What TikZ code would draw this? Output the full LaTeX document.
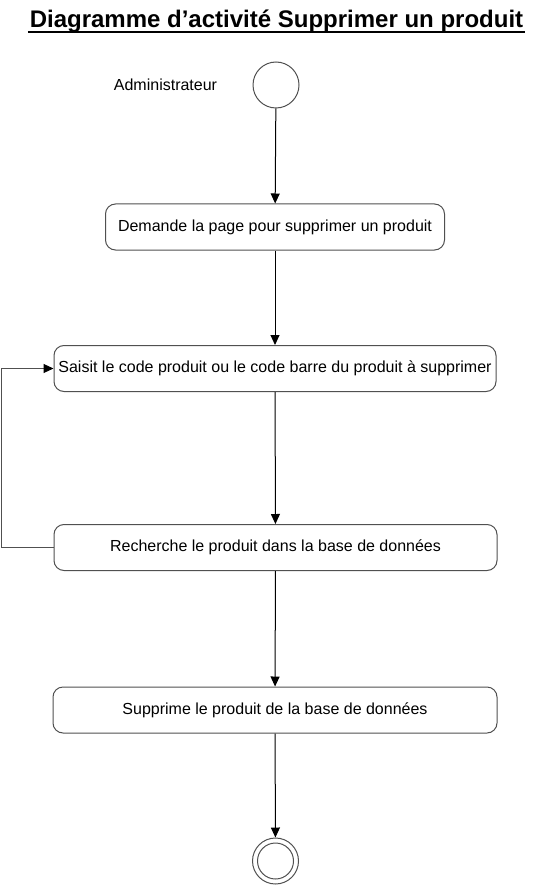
\documentclass[tikz,border=0pt]{standalone}
\usepackage{fontspec}
\setmainfont{Liberation Sans}
\usetikzlibrary{calc}
\usetikzlibrary{arrows.meta}
\usetikzlibrary{positioning}
\definecolor{trait}{RGB}{80, 80, 80}

\tikzset{
  activite/.style={draw=trait, rounded corners=10pt, minimum height=46pt, inner sep=0pt,
                   font=\fontsize{16}{19}\selectfont},
  debut/.style={draw=trait, circle, minimum size=46pt, inner sep=0pt},
  fleche/.style={-{Triangle[length=10pt, width=9pt, color=black]}, line width=1pt}
}

\begin{document}
\begin{tikzpicture}[x=1pt, y=-1pt, line width=1pt]
            % Frame to ensure alignment:
            \useasboundingbox                                             (0, 0) rectangle (535, 885);
            \node[anchor=base, font=\fontsize{24}{28}\selectfont\bfseries] (titre) at (276.5, 28) {Diagramme d’activité Supprimer un produit};
            \draw[line width=2pt] ($(titre.base west)+(2,4)$) -- ($(titre.base east)+(-2,4)$);
            \node[font=\fontsize{16}{19}\selectfont] (acteur)    at (165.5, 85)  {Administrateur};
            \node[debut]                             (debut)     at (276, 85)    {};
            \node[activite, minimum width=339pt]     (demande)   at (275, 227)   {Demande la page pour supprimer un produit};
            \node[activite, minimum width=442pt]     (saisit)    at (275, 368.5) {Saisit le code produit ou le code barre du produit à supprimer};
            \node[activite, minimum width=443pt]     (recherche) at (275.5, 547.5) {Recherche le produit dans la base de données};
            \node[activite, minimum width=444pt]     (supprime)  at (275, 710)   {Supprime le produit de la base de données};
            \node[debut]                             (fin)       at (275.5, 861) {};
            \draw[trait] (fin.center) circle (18pt);
            % Transitions:
            \draw[fleche] (debut)            -- (demande);
            \draw[fleche] (demande)          -- (saisit);
            \draw[fleche] (saisit)           -- (recherche);
            \draw[fleche] (recherche)        -- (supprime);
            \draw[fleche] (supprime)         -- (fin);
            \draw[fleche, draw=trait] (recherche.west) -- ++(-52, 0) |- (saisit.west);
        \end{tikzpicture}
\end{document}
